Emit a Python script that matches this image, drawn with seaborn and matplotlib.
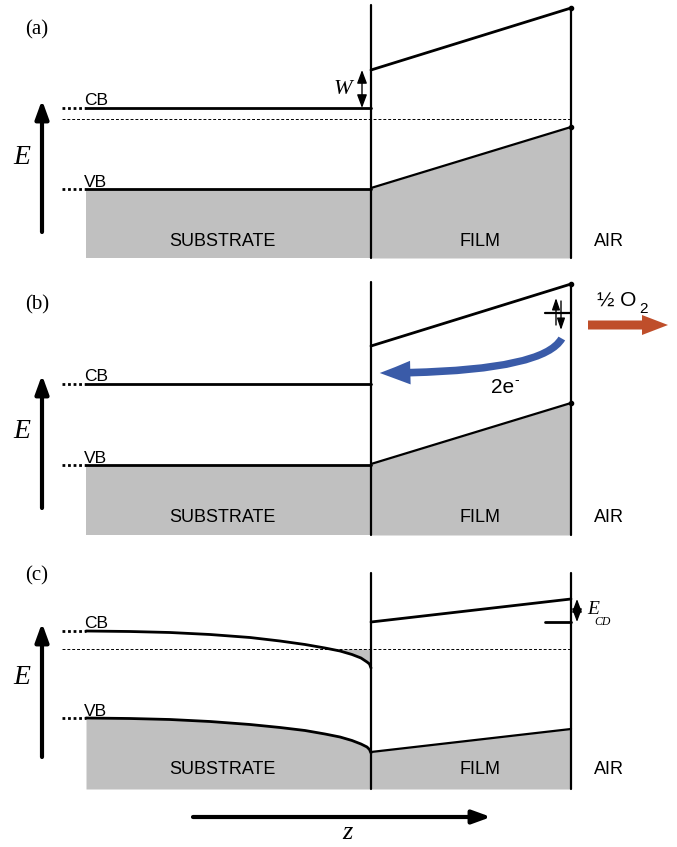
import numpy as np
import seaborn as sns
import matplotlib.pyplot as plt
from matplotlib.patches import FancyArrowPatch

sns.set_theme(style="white")
plt.rcParams["font.family"] = ["Liberation Sans", "DejaVu Sans"]
plt.rcParams["text.color"] = "black"
SERIF = ["Liberation Serif", "DejaVu Serif"]

# --- geometry, in pixels (y grows downward) ---
x_dots = [62, 86]
x_sub = [86, 371]
x_iface = 371
x_surf = 571

panel_names = ["(a)", "(b)", "(c)"]
panel_label_y = [30, 305, 576]
iface_top = [5, 282, 573]
surf_top = [8, 284, 573]
panel_bottom = [258, 535, 789]

# flat substrate bands (panels a, b)
sub_cb = [108, 384]
sub_vb = [189, 465]
# film band edges: value at interface, value at surface
film_cb = [[70, 8], [346, 284], [622, 599]]
film_vb = [[188, 127], [464, 403], [752, 729]]
fermi = [119, None, 649]

# bent substrate bands in panel (c)
bend_x = [86, 130, 170, 210, 250, 280, 305, 325, 340, 352, 361, 367, 369.5, 371]
bend_cb = [631, 631.5, 632.5, 634.5, 637.5, 641, 644.5, 648, 651, 654.5, 658, 662, 664, 668]
bend_vb = [718, 718.5, 719.5, 721.5, 724.5, 727.5, 730.5, 734, 737, 740.5, 744, 747, 749.5, 753]

# labels
e_arrow = [(232, 100), (508, 375), (757, 623)]
e_label_y = [157, 432, 677]
cb_label_y = [105, 381, 628]
vb_label_y = [187, 463, 716]
region_label_y = [242, 517, 770]
region_names = ["SUBSTRATE", "FILM", "AIR"]
region_x = [222, 480, 609]

GRAY = "#c0c0c0"
BLUE = "#3a5ba8"
ORANGE = "#bf4e2a"

fig = plt.figure(figsize=(6.77, 8.47), dpi=100)
ax = fig.add_axes([0, 0, 1, 1])


def band(x, y, lw=2.0):
    sns.lineplot(x=x, y=y, ax=ax, color="black", linewidth=lw,
                 estimator=None, sort=False, zorder=3)


def arrow(start, end, lw=1.0, style="-|>", hl=0.5, hw=0.2, ms=20):
    ax.annotate("", xy=end, xytext=start,
                arrowprops=dict(arrowstyle=f"{style},head_length={hl},head_width={hw}",
                                lw=lw, color="black", mutation_scale=ms,
                                shrinkA=0, shrinkB=0), zorder=4)


for i in range(3):
    bot = panel_bottom[i]
    fc0, fc1 = film_cb[i]
    fv0, fv1 = film_vb[i]

    # substrate
    if i < 2:
        ax.fill_between(x_sub, [sub_vb[i]] * 2, [bot] * 2, color=GRAY, lw=0, zorder=1)
        band(x_sub, [sub_cb[i]] * 2)
        band(x_sub, [sub_vb[i]] * 2)
        cb_left, vb_left = sub_cb[i], sub_vb[i]
    else:
        ax.fill_between(bend_x, bend_vb, [bot] * len(bend_x), color=GRAY, lw=0, zorder=1)
        cb = np.array(bend_cb)
        ax.fill_between(bend_x, [fermi[i]] * len(bend_x), cb, where=cb >= fermi[i],
                        interpolate=True, color=GRAY, lw=0, zorder=1)
        band(bend_x, bend_cb)
        band(bend_x, bend_vb)
        cb_left, vb_left = bend_cb[0], bend_vb[0]

    ax.plot(x_dots, [cb_left] * 2, color="black", lw=2, ls=(0, (1, 1)), zorder=3)
    ax.plot(x_dots, [vb_left] * 2, color="black", lw=2, ls=(0, (1, 1)), zorder=3)
    ax.text(x_dots[1] - 2, cb_label_y[i], "CB", fontsize=12.5, ha="left", va="baseline")
    ax.text(x_dots[1] - 2, vb_label_y[i], "VB", fontsize=12.5, ha="left", va="baseline")

    # film
    ax.fill_between([x_iface, x_surf], [fv0, fv1], [bot, bot], color=GRAY, lw=0, zorder=1)
    band([x_iface, x_surf], [fc0, fc1])
    band([x_iface, x_surf], [fv0, fv1], lw=1.6)
    if i < 2:
        ax.plot([x_surf, x_surf], [fc1, fv1], "o", color="black", ms=3, zorder=5)

    # interfaces
    ax.plot([x_iface, x_iface], [iface_top[i], bot], color="black", lw=1.6, zorder=4)
    ax.plot([x_surf, x_surf], [surf_top[i], bot], color="black", lw=1.6, zorder=4)

    if fermi[i] is not None:
        ax.plot([x_dots[0], x_surf], [fermi[i]] * 2, color="black", lw=0.7,
                ls=(0, (3, 2)), zorder=2)

    # labels
    ax.text(25, panel_label_y[i], panel_names[i], family=SERIF, fontsize=15,
            ha="left", va="center")
    ax.text(22, e_label_y[i], "E", family=SERIF, style="italic", fontsize=20,
            ha="center", va="center")
    arrow((42, e_arrow[i][0]), (42, e_arrow[i][1]), lw=3, hl=0.55, hw=0.2)
    for name, xr in zip(region_names, region_x):
        ax.text(xr, region_label_y[i], name, fontsize=13, ha="center", va="center")

# (a) barrier W
arrow((362, 108), (362, 70), lw=1.0, style="<|-|>", hl=0.4, hw=0.15)
ax.text(343, 89, "W", family=SERIF, style="italic", fontsize=16, ha="center", va="center")

# (b) surface state, O2 release and electron transfer
ax.plot([545, x_surf], [313, 313], color="black", lw=1.6, zorder=4)
arrow((556, 325), (556, 298), lw=1.0, hl=0.35, hw=0.12)
arrow((561, 301), (561, 330), lw=1.0, hl=0.35, hw=0.12)
ax.arrow(588, 325, 80, 0, width=9, head_width=20, head_length=26,
         length_includes_head=True, color=ORANGE, lw=0, zorder=4)
ax.text(597, 300, "½ O", fontsize=15, ha="left", va="center")
ax.text(639, 309, "2", fontsize=11, ha="left", va="center")
blue = FancyArrowPatch((563, 336), (377, 373), connectionstyle="angle3,angleA=68,angleB=0",
                       arrowstyle="simple,head_length=2.2,head_width=1.7,tail_width=0.55",
                       mutation_scale=10, color=BLUE, lw=0, zorder=4)
ax.add_patch(blue)
ax.text(491, 393, "2e", fontsize=15, ha="left", va="baseline")
ax.text(514, 380, "-", fontsize=10, ha="left", va="center")

# (c) E_CD step
ax.plot([545, x_surf], [622, 622], color="black", lw=2, zorder=4)
arrow((577, 599), (577, 622), lw=1.0, style="<|-|>", hl=0.4, hw=0.15)
ax.text(587, 609, "E", family=SERIF, style="italic", fontsize=14, ha="left", va="center")
ax.text(594, 622, "CD", family=SERIF, style="italic", fontsize=8.5, ha="left", va="center")

# depth axis
arrow((193, 817), (491, 817), lw=3, hl=0.55, hw=0.2)
ax.text(347, 833, "z", family=SERIF, style="italic", fontsize=19, ha="center", va="center")

ax.set_xlim(0, 677)
ax.set_ylim(847, 0)
ax.axis("off")
fig.savefig("out.png", dpi=100)
